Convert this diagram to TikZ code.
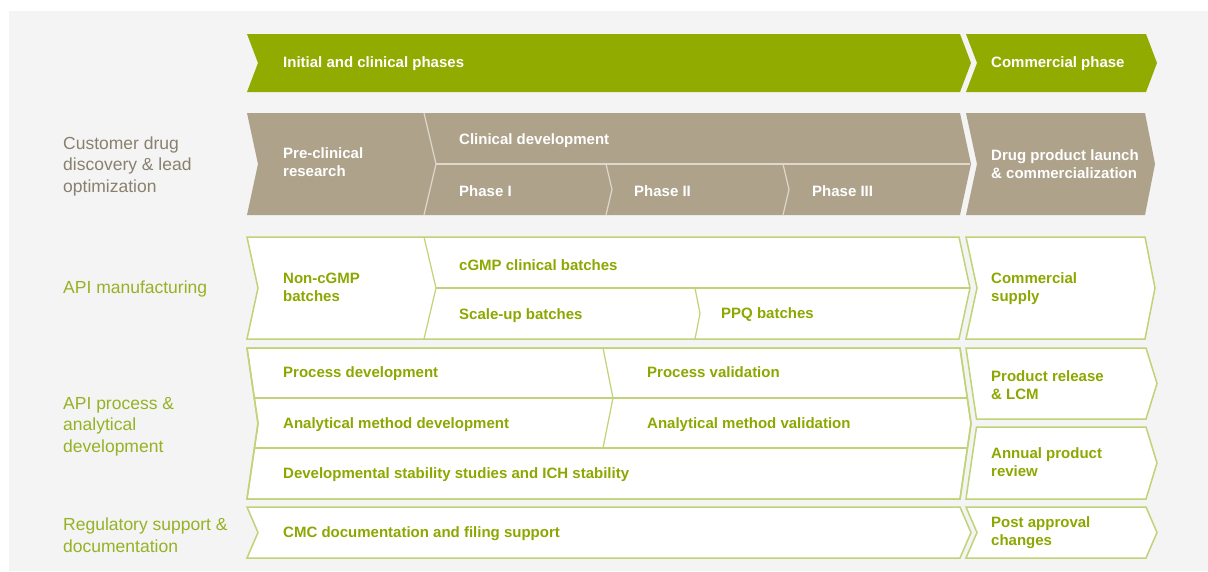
\documentclass[tikz,border=0pt]{standalone}
\usepackage{fontspec}
\setmainfont{Liberation Sans}
\usepackage{tikz}
\usetikzlibrary{positioning}

\definecolor{pagebg}{RGB}{244,244,244}
\definecolor{leafgreen}{RGB}{145,171,0}
\definecolor{textgreen}{RGB}{140,168,0}
\definecolor{linegreen}{RGB}{192,211,118}
\definecolor{taupe}{RGB}{174,162,138}
\definecolor{taupeline}{RGB}{222,216,204}
\definecolor{taupetext}{RGB}{138,128,110}
\definecolor{labelgreen}{RGB}{150,178,36}

\begin{document}
\begin{tikzpicture}[x=1pt, y=-1pt,
    phasebar/.style={fill=leafgreen},
    stagebar/.style={fill=taupe},
    stagesep/.style={draw=taupeline, line width=1.2pt},
    workbox/.style={fill=white, draw=linegreen, line width=1.5pt, line join=miter},
    worksep/.style={draw=linegreen, line width=1.2pt},
    bartext/.style={anchor=west, inner sep=0pt, align=left, text=white, font=\fontsize{15}{18}\selectfont\bfseries},
    worktext/.style={anchor=west, inner sep=0pt, align=left, text=textgreen, font=\fontsize{15}{18}\selectfont\bfseries},
    rowlabel/.style={anchor=west, inner sep=0pt, align=left, font=\fontsize{17.5}{21.5}\selectfont}]

    \useasboundingbox (0,0) rectangle (1208,571);
    \fill[white] (0,0) rectangle (1208,571);
    \fill[pagebg] (9,11) rectangle (1208,571);

    %Phase bars
    \path[phasebar] (247,34) -- (960,34) -- (971,63) -- (960,92) -- (247,92) -- (258,63) -- cycle;
    \path[phasebar] (966,34) -- (1146,34) -- (1157,63) -- (1146,92) -- (966,92) -- (977,63) -- cycle;

    %Stage bars
    \path[stagebar] (247,113) -- (960,113) -- (971,164) -- (960,215) -- (247,215) -- (258,164) -- cycle;
    \path[stagebar] (966,113) -- (1145,113) -- (1155,164) -- (1145,215) -- (966,215) -- (977,164) -- cycle;
    \draw[stagesep] (424,113) -- (436,164) -- (424,215);
    \draw[stagesep] (436,164) -- (970,164);
    \draw[stagesep] (606,164) -- (612,189.5) -- (606,215);
    \draw[stagesep] (783,164) -- (789,189.5) -- (783,215);

    %API manufacturing
    \path[workbox] (247,237) -- (959,237) -- (970,288) -- (959,339) -- (247,339) -- (258,288) -- cycle;
    \draw[worksep] (424,237) -- (436,288) -- (424,339);
    \draw[worksep] (436,288) -- (969,288);
    \draw[worksep] (695,288) -- (700,313.5) -- (695,339);
    \path[workbox] (966,237) -- (1145,237) -- (1155,288) -- (1145,339) -- (966,339) -- (977,288) -- cycle;

    %API process and analytical development
    \path[workbox] (247,348) -- (960,348) -- (971,423.5) -- (960,499) -- (247,499) -- (258,423.5) -- cycle;
    \begin{scope}
        \clip (247,348) -- (960,348) -- (971,423.5) -- (960,499) -- (247,499) -- (258,423.5) -- cycle;
        \draw[worksep] (240,398) -- (980,398);
        \draw[worksep] (240,448) -- (980,448);
    \end{scope}
    \draw[worksep] (603,348) -- (613,398) -- (603,448);
    \draw[workbox, fill=none] (247,348) -- (960,348) -- (971,423.5) -- (960,499) -- (247,499) -- (258,423.5) -- cycle;
    \path[workbox] (966,348) -- (1146,348) -- (1157,383.5) -- (1146,419) -- (976.5,419) -- cycle;
    \path[workbox] (976.5,427) -- (1146,427) -- (1157,463) -- (1146,499) -- (966,499) -- cycle;

    %Regulatory support
    \path[workbox] (247,507) -- (960,507) -- (971,532.5) -- (960,558) -- (247,558) -- (258,532.5) -- cycle;
    \path[workbox] (966,507) -- (1146,507) -- (1157,532.5) -- (1146,558) -- (966,558) -- (977,532.5) -- cycle;

    %Row labels
    \node[rowlabel, text=taupetext]  (discovery)  at (63,166)   {Customer drug\\discovery \& lead\\optimization};
    \node[rowlabel, text=labelgreen] (manufact)   at (63,289)   {API manufacturing};
    \node[rowlabel, text=labelgreen] (procdev)    at (63,426.5) {API process \&\\analytical\\development};
    \node[rowlabel, text=labelgreen] (regsupport) at (63,535)   {Regulatory support \&\\documentation};

    %Bar texts
    \node[bartext] (initial)    at (283,64)    {Initial and clinical phases};
    \node[bartext] (commphase)  at (991,64)    {Commercial phase};
    \node[bartext] (preclin)    at (283,162.5) {Pre-clinical\\research};
    \node[bartext] (clindev)    at (459,141)   {Clinical development};
    \node[bartext] (phase1)     at (459,191.5) {Phase I};
    \node[bartext] (phase2)     at (634,191.5) {Phase II};
    \node[bartext] (phase3)     at (812,191.5) {Phase III};
    \node[bartext] (launch)     at (991,164)   {Drug product launch\\\& commercialization};

    %Box texts
    \node[worktext] (noncgmp)   at (283,287.5) {Non-cGMP\\batches};
    \node[worktext] (cgmp)      at (459,265)   {cGMP clinical batches};
    \node[worktext] (scaleup)   at (459,316)   {Scale-up batches};
    \node[worktext] (ppq)       at (721,315)   {PPQ batches};
    \node[worktext] (supply)    at (991,288.5) {Commercial\\supply};
    \node[worktext] (procd)     at (283,374)   {Process development};
    \node[worktext] (procv)     at (647,372.5) {Process validation};
    \node[worktext] (methd)     at (283,425)   {Analytical method development};
    \node[worktext] (methv)     at (647,425)   {Analytical method validation};
    \node[worktext] (stability) at (283,475)   {Developmental stability studies and ICH stability};
    \node[worktext] (release)   at (991,385)   {Product release\\\& LCM};
    \node[worktext] (annual)    at (991,462)   {Annual product\\review};
    \node[worktext] (cmc)       at (283,534)   {CMC documentation and filing support};
    \node[worktext] (postappr)  at (991,533)   {Post approval\\changes};
\end{tikzpicture}
\end{document}
